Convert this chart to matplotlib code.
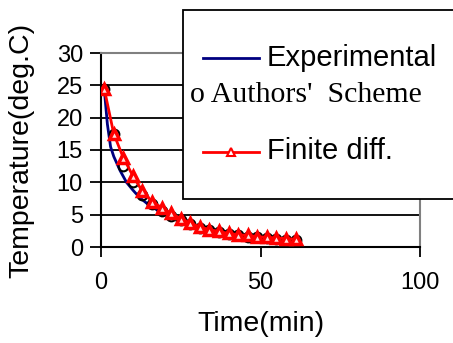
import matplotlib
matplotlib.use("Agg")
import matplotlib.pyplot as plt
from matplotlib.patches import Rectangle
from matplotlib.lines import Line2D

# data
exp_t = [1, 2, 3, 4, 6, 8, 10, 12, 15, 18, 22, 26, 30, 35, 40, 45, 50, 55, 60]
exp_temp = [24.5, 19.0, 15.5, 14.0, 11.8, 10.0, 8.8, 7.7, 6.5, 5.6, 4.6, 3.9, 3.3, 2.7, 2.3, 1.9, 1.6, 1.35, 1.15]

sim_t = [1, 4, 7, 10, 13, 16, 19, 22, 25, 28, 31, 34, 37, 40, 43, 46, 49, 52, 55, 58, 61]
authors_temp = [24.5, 17.5, 12.5, 10.0, 8.0, 6.6, 5.6, 4.8, 4.1, 3.5, 3.0, 2.6, 2.3, 2.0, 1.8, 1.6, 1.5, 1.35, 1.25, 1.15, 1.05]
fd_temp = [24.5, 17.5, 13.8, 11.0, 8.6, 7.0, 6.1, 5.2, 4.4, 3.7, 3.1, 2.7, 2.4, 2.1, 1.9, 1.8, 1.6, 1.5, 1.4, 1.3, 1.2]

fig = plt.figure(figsize=(4.53, 3.43), dpi=100)
ax = fig.add_axes([101 / 453, 1 - 247 / 343, 319 / 453, 194 / 343])
plt.rcParams['font.family'] = ['Liberation Sans', 'DejaVu Sans']

ax.plot(exp_t, exp_temp, color='#000080', lw=2, zorder=3)
ax.plot(sim_t, authors_temp, 'o', color='black', mfc='none', ms=7, mew=1.5, zorder=4)
ax.plot(sim_t, fd_temp, '-^', color='red', lw=2, mfc='#ffdddd', ms=7, mew=2.5, zorder=5)

ax.set_xlim(0, 100)
ax.set_ylim(0, 30)
ax.set_xticks([0, 50, 100])
ax.set_yticks(range(0, 31, 5))
ax.grid(axis='y', color='black', lw=1.3)
ax.set_axisbelow(True)
for s in ['top', 'right']:
    ax.spines[s].set_color('#808080')
    ax.spines[s].set_linewidth(1.5)
for s in ['left', 'bottom']:
    ax.spines[s].set_linewidth(1.5)
ax.tick_params(axis='y', labelsize=17, length=8, width=1.3, pad=5)
ax.tick_params(axis='x', labelsize=17, length=7, width=1.3, pad=11)
for lab in ax.get_xticklabels() + ax.get_yticklabels():
    lab.set_family('Liberation Sans')
ax.set_xlabel("Time(min)", fontsize=20.5, family='Liberation Sans', labelpad=12)
ax.set_ylabel("Temperature(deg.C)", fontsize=20.5, family='Liberation Sans', labelpad=16)

# hand-drawn legend box, as in the original
W, H = 453, 343
fig.add_artist(Rectangle((183 / W, 1 - 199 / H), 300 / W, 189 / H, transform=fig.transFigure,
                         facecolor='white', edgecolor='black', lw=1.3, zorder=10))
fig.add_artist(Line2D([203 / W, 259 / W], [1 - 58 / H] * 2, transform=fig.transFigure,
                      color='#000080', lw=2, zorder=11))
fig.text(267 / W, 1 - 58 / H, "Experimental", fontsize=21, family='Liberation Sans',
         va='center', ha='left', zorder=11)
fig.text(190 / W, 1 - 95 / H, "o Authors'  Scheme", fontsize=21.5, family='Liberation Serif',
         va='center', ha='left', zorder=11)
fig.add_artist(Line2D([203 / W, 259 / W], [1 - 152 / H] * 2, transform=fig.transFigure,
                      color='red', lw=2, zorder=11))
fig.add_artist(Line2D([231 / W], [1 - 152 / H], transform=fig.transFigure, marker='^',
                      color='red', mfc='white', ms=6, mew=1.5, zorder=12))
fig.text(267 / W, 1 - 151 / H, "Finite diff.", fontsize=21, family='Liberation Sans',
         va='center', ha='left', zorder=11)

fig.savefig("out.png", dpi=100)
